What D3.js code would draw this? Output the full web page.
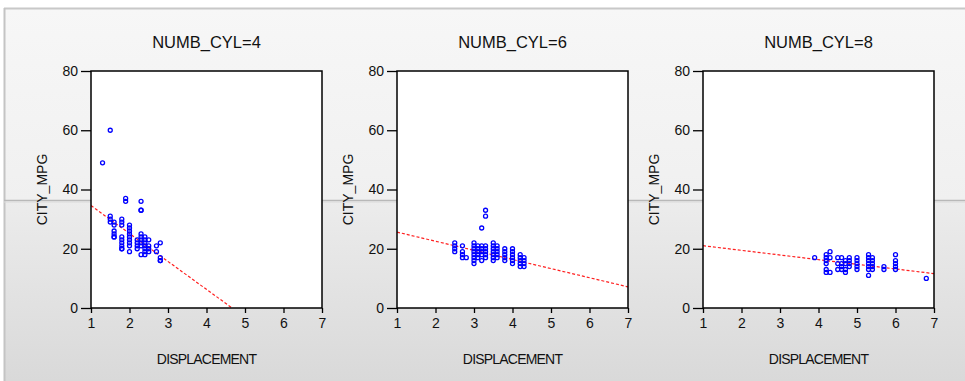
<!DOCTYPE html>
<html><head><meta charset="utf-8">
<script src="https://cdn.jsdelivr.net/npm/d3@7"></script>
<style>body{margin:0;background:#fff;}svg{display:block;font-family:"Liberation Sans",Arial,sans-serif;}</style>
</head><body><svg id="c" width="965" height="381"></svg>
<script>
// ---- data ----
const panelTitles = ["NUMB_CYL=4", "NUMB_CYL=6", "NUMB_CYL=8"];
const xTicks = [1, 2, 3, 4, 5, 6, 7];
const yTicks = [0, 20, 40, 60, 80];
const xLabel = "DISPLACEMENT";
const yLabel = "CITY_MPG";
// displacement, city mpg pairs per cylinder group
const cyl4 = [[1.3,49],[1.5,60],[1.5,31],[1.5,30],[1.5,29],
  [1.6,29],[1.6,28],[1.6,26],[1.6,25],[1.6,24],[1.6,24],
  [1.8,30],[1.8,29],[1.8,28],[1.8,24],[1.8,23],[1.8,22],[1.8,21],[1.8,20],[1.8,20],
  [1.9,37],[1.9,36],
  [2.0,28],[2.0,27],[2.0,26],[2.0,25],[2.0,24],[2.0,23],[2.0,22],[2.0,21],[2.0,19],
  [2.2,23],[2.2,22],[2.2,21],[2.2,20],
  [2.3,36],[2.3,33],[2.3,33],[2.3,25],[2.3,24],[2.3,23],[2.3,22],[2.3,21],[2.3,18],
  [2.4,24],[2.4,23],[2.4,22],[2.4,21],[2.4,20],[2.4,19],[2.4,18],
  [2.5,23],[2.5,21],[2.5,20],[2.5,19],
  [2.7,21],[2.7,19],
  [2.8,22],[2.8,17],[2.8,16],[2.8,16]];
const cyl6 = [[2.5,22],[2.5,21],[2.5,20],[2.5,19],
  [2.7,21],[2.7,19],[2.7,18],[2.7,17],[2.8,17],
  [3.0,22],[3.0,21],[3.0,20],[3.0,19],[3.0,18],[3.0,17],[3.0,16],[3.0,15],
  [3.1,21],[3.1,20],[3.1,19],[3.1,18],[3.1,17],
  [3.2,27],[3.2,21],[3.2,20],[3.2,19],[3.2,18],[3.2,16],
  [3.3,33],[3.3,31],[3.3,21],[3.3,20],[3.3,19],[3.3,18],[3.3,17],
  [3.5,22],[3.5,21],[3.5,20],[3.5,19],[3.5,18],[3.5,17],[3.5,16],
  [3.6,21],[3.6,20],[3.6,19],[3.6,18],[3.6,17],
  [3.8,20],[3.8,19],[3.8,18],[3.8,17],[3.8,16],
  [4.0,20],[4.0,19],[4.0,18],[4.0,17],[4.0,16],[4.0,15],
  [4.2,18],[4.2,17],[4.2,16],[4.2,15],[4.2,14],
  [4.3,17],[4.3,16],[4.3,15],[4.3,14]];
const cyl8 = [[3.9,17],
  [4.2,18],[4.2,17],[4.2,16],[4.2,15],[4.2,13],[4.2,12],
  [4.3,19],[4.3,17],[4.3,12],
  [4.5,17],[4.5,15],[4.5,13],
  [4.6,17],[4.6,15],[4.6,14],[4.6,13],
  [4.7,16],[4.7,15],[4.7,13],[4.7,12],
  [4.8,17],[4.8,16],[4.8,15],[4.8,14],
  [5.0,17],[5.0,16],[5.0,15],[5.0,14],[5.0,13],
  [5.3,18],[5.3,17],[5.3,16],[5.3,15],[5.3,14],[5.3,13],[5.3,11],
  [5.4,17],[5.4,16],[5.4,15],[5.4,14],[5.4,13],
  [5.7,14],[5.7,13],
  [6.0,18],[6.0,16],[6.0,15],[6.0,14],[6.0,13],
  [6.8,10]];
const groups = [cyl4, cyl6, cyl8];
// fitted regression lines: mpg = intercept + slope * displacement
const fitIntercept = [44.0, 28.7, 22.6];
const fitSlope = [-9.43, -3.08, -1.57];

// ---- drawing ----
const svg = d3.select("#c");
const defs = svg.append("defs");
const gTop = defs.append("linearGradient").attr("id","gt").attr("x1",0).attr("x2",0).attr("y1",0).attr("y2",1);
gTop.append("stop").attr("offset","0%").attr("stop-color","#f7f7f7");
gTop.append("stop").attr("offset","100%").attr("stop-color","#f0f0f0");
const gBot = defs.append("linearGradient").attr("id","gb").attr("x1",0).attr("x2",0).attr("y1",0).attr("y2",1);
gBot.append("stop").attr("offset","0%").attr("stop-color","#ececec");
gBot.append("stop").attr("offset","100%").attr("stop-color","#d9d9d9");

svg.append("rect").attr("x",0).attr("y",0).attr("width",965).attr("height",381).attr("fill","#ffffff");
svg.append("rect").attr("x",4).attr("y",8).attr("width",961).attr("height",192).attr("fill","url(#gt)");
svg.append("rect").attr("x",4).attr("y",200).attr("width",961).attr("height",181).attr("fill","url(#gb)");
svg.append("line").attr("x1",4).attr("x2",965).attr("y1",8.5).attr("y2",8.5).attr("stroke","#c8c8c8").attr("stroke-width",2);
svg.append("line").attr("x1",4.5).attr("x2",4.5).attr("y1",8).attr("y2",381).attr("stroke","#c4c4c4").attr("stroke-width",2);
svg.append("line").attr("x1",4).attr("x2",965).attr("y1",200.5).attr("y2",200.5).attr("stroke","#b8b8b8").attr("stroke-width",1.5);
svg.append("line").attr("x1",4).attr("x2",965).attr("y1",202).attr("y2",202).attr("stroke","#dadada").attr("stroke-width",1);

const panelLeft = [91, 397, 703];
const pw = 231, plotTop = 71, plotBottom = 308;

panelLeft.forEach((L, i) => {
  const x = d3.scaleLinear().domain([1, 7]).range([L, L + pw]);
  const y = d3.scaleLinear().domain([0, 80]).range([plotBottom, plotTop]);
  const g = svg.append("g");
  const cx = L + pw / 2;
  g.append("text").attr("x", cx).attr("y", 48).attr("text-anchor","middle")
    .attr("font-size", 16.5).attr("fill","#111").text(panelTitles[i]);
  g.append("rect").attr("x", L).attr("y", plotTop).attr("width", pw).attr("height", plotBottom - plotTop)
    .attr("fill","#fff");
  const clipId = "clip" + i;
  defs.append("clipPath").attr("id", clipId).append("rect")
    .attr("x", L).attr("y", plotTop).attr("width", pw).attr("height", plotBottom - plotTop);

  // axes
  const ya = g.append("g").attr("transform", `translate(${L},0)`)
    .call(d3.axisLeft(y).tickValues(yTicks).tickSize(10).tickPadding(3).tickFormat(d3.format("d")));
  const xa = g.append("g").attr("transform", `translate(0,${plotBottom})`)
    .call(d3.axisBottom(x).tickValues(xTicks).tickSize(5).tickPadding(5).tickFormat(d3.format("d")));
  [ya, xa].forEach(a => {
    a.select(".domain").remove();
    a.selectAll("line").attr("stroke","#000").attr("stroke-width",1.3);
    a.selectAll("text").attr("font-size",14).attr("fill","#111")
      .attr("font-family",'"Liberation Sans",Arial,sans-serif');
  });

  // regression line
  g.append("line").attr("clip-path", `url(#${clipId})`)
    .attr("x1", x(1)).attr("y1", y(fitIntercept[i] + fitSlope[i] * 1))
    .attr("x2", x(7)).attr("y2", y(fitIntercept[i] + fitSlope[i] * 7))
    .attr("stroke","#ff2020").attr("stroke-width",1.2).attr("stroke-dasharray","3,2");

  // points
  g.append("g").attr("clip-path", `url(#${clipId})`).selectAll("circle").data(groups[i]).join("circle")
    .attr("cx", d => x(d[0])).attr("cy", d => y(d[1])).attr("r", 2)
    .attr("fill","none").attr("stroke","#0000ff").attr("stroke-width",1.3);

  // frame
  g.append("rect").attr("x", L).attr("y", plotTop).attr("width", pw).attr("height", plotBottom - plotTop)
    .attr("fill","none").attr("stroke","#000").attr("stroke-width",1.5);

  g.append("text").attr("x", cx).attr("y", 364).attr("text-anchor","middle")
    .attr("font-size", 14).attr("letter-spacing", -0.8).attr("fill","#111").text(xLabel);
  g.append("text").attr("transform", `translate(${L - 44},${(plotTop + plotBottom) / 2}) rotate(-90)`)
    .attr("text-anchor","middle").attr("font-size", 14).attr("fill","#111").text(yLabel);
});
</script></body></html>
